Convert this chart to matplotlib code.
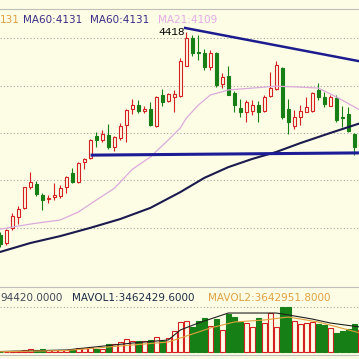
import numpy as np
import matplotlib
matplotlib.use('Agg')
import matplotlib.pyplot as plt

# daily candles (index 0 = first visible bar)
opens = [3777, 3752, 3800, 3834, 3863, 3929, 3939, 3904, 3891, 3898,
         3901, 3929, 3973, 3945, 4008, 4021, 4090, 4078, 4093, 4056,
         4084, 4125, 4176, 4188, 4169, 4176, 4122, 4220, 4201, 4214,
         4217, 4311, 4400, 4356, 4353, 4308, 4353, 4255, 4280, 4226,
         4179, 4166, 4169, 4188, 4169, 4217, 4239, 4305, 4176, 4122,
         4150, 4166, 4169, 4236, 4214, 4185, 4210, 4150, 4160, 4097, 4056]
highs = [3787, 3796, 3847, 3869, 3929, 3976, 3948, 3910, 3904, 3942,
         3935, 3964, 3989, 4008, 4021, 4081, 4103, 4109, 4128, 4090,
         4131, 4176, 4207, 4204, 4185, 4198, 4217, 4239, 4226, 4236,
         4337, 4418, 4409, 4410, 4365, 4362, 4356, 4289, 4311, 4232,
         4207, 4204, 4204, 4201, 4220, 4292, 4327, 4310, 4207, 4172,
         4188, 4214, 4229, 4258, 4229, 4220, 4220, 4185, 4182, 4100, 4085]
lows = [3740, 3746, 3793, 3812, 3860, 3923, 3901, 3856, 3879, 3888,
        3894, 3910, 3942, 3942, 3986, 4018, 4056, 4071, 4049, 4043,
        4078, 4071, 4160, 4163, 4163, 4122, 4119, 4185, 4198, 4166,
        4214, 4311, 4343, 4330, 4299, 4299, 4245, 4242, 4220, 4166,
        4150, 4135, 4157, 4135, 4166, 4214, 4236, 4144, 4097, 4112,
        4125, 4166, 4166, 4204, 4182, 4185, 4135, 4119, 4103, 4030, 4050]
closes = [3749, 3793, 3837, 3860, 3929, 3945, 3907, 3888, 3894, 3904,
          3926, 3961, 3945, 4005, 4018, 4078, 4078, 4097, 4056, 4087,
          4122, 4172, 4188, 4169, 4176, 4125, 4214, 4198, 4223, 4223,
          4327, 4400, 4353, 4353, 4308, 4353, 4251, 4277, 4220, 4188,
          4166, 4198, 4188, 4166, 4214, 4242, 4315, 4150, 4135, 4150,
          4169, 4182, 4226, 4214, 4191, 4214, 4141, 4147, 4106, 4056, 4078]

# volume, in units of 10k
vols = [4, 7, 11, 18, 23, 37, 23, 41, 23, 23,
        23, 23, 41, 55, 55, 65, 46, 46, 115, 115,
        134, 179, 148, 148, 148, 161, 207, 148, 193, 286,
        414, 428, 345, 428, 469, 359, 455, 304, 524, 483,
        414, 400, 345, 469, 400, 538, 345, 621, 621, 428,
        386, 400, 414, 386, 373, 331, 262, 290, 317, 386, 304]

# moving averages read at a few bars
ma60_idx = [0, 5, 10, 15, 20, 25, 30, 34, 38, 42, 46, 50, 55, 60]
ma60_val = [3724, 3752, 3774, 3800, 3828, 3863, 3913, 3958, 3992, 4018, 4040, 4068, 4100, 4131]
ma21_idx = [0, 5, 10, 13, 16, 19, 20, 22, 25, 28, 30, 31, 33, 35, 38, 42, 46, 50, 53, 56, 60]
ma21_val = [3796, 3812, 3825, 3850, 3888, 3925, 3945, 3985, 4024, 4078, 4116, 4147, 4188, 4220,
            4236, 4242, 4248, 4245, 4242, 4214, 4172]
mavol1_idx = [0, 11, 22, 28, 30, 33, 38, 46, 48, 52, 55, 60]
mavol1_val = [7, 28, 124, 166, 304, 400, 538, 538, 511, 455, 400, 345]
mavol2_idx = [0, 11, 22, 28, 30, 35, 39, 44, 48, 53, 60]
mavol2_val = [4, 21, 97, 138, 193, 331, 414, 442, 483, 414, 262]

# hand drawn lines
trend_x = [30.8, 59.8]
trend_y = [4432, 4327]
support_x = [15.3, 59.8]
support_y = [4030, 4037]

price_grid = [4400, 4250, 4100, 3950, 3800]
vol_grid = [621]

BG = '#fdfde6'
RED = '#d42020'
GREEN = '#168016'
GRID = '#a8a8a0'
SIZE = 359.0

def figPos(x, y):
    return x / SIZE, 1 - y / SIZE

def cleanAxes(ax):
    ax.set_facecolor(BG)
    ax.set_xticks([])
    ax.set_yticks([])
    for side in ['left', 'right', 'bottom', 'top']:
        ax.spines[side].set_visible(False)

def drawCandles(ax):
    for i in range(len(opens)):
        o, h, l, c = opens[i], highs[i], lows[i], closes[i]
        up = c >= o
        col = RED if up else GREEN
        ax.vlines(i, l, h, color=col, lw=0.8, zorder=2)
        ax.bar(i, max(abs(c - o), 0.5), bottom=min(o, c), width=0.6,
               facecolor=BG if up else GREEN, edgecolor=col, lw=0.8, zorder=3)

def drawVolume(ax):
    for i in range(len(vols)):
        up = closes[i] >= opens[i]
        col = RED if up else GREEN
        ax.bar(i, vols[i], width=0.8, facecolor=BG if up else GREEN,
               edgecolor=col, lw=0.8, zorder=3)

fig = plt.figure(figsize=(3.59, 3.59), dpi=100, facecolor=BG)
axPrice = fig.add_axes([0, 1 - 287 / SIZE, 1, 278 / SIZE])
axVol = fig.add_axes([0, 1 - 355 / SIZE, 1, 68 / SIZE])
cleanAxes(axPrice)
cleanAxes(axVol)
axPrice.spines['top'].set_visible(True)
axPrice.spines['top'].set_color('#c0c0b8')
axVol.spines['top'].set_visible(True)
axVol.spines['top'].set_color('#c0c0b8')
axVol.spines['bottom'].set_visible(True)
axVol.spines['bottom'].set_color('#c0c0b8')

for level in price_grid:
    axPrice.axhline(level, color=GRID, lw=0.8, ls=(0, (1, 2)), zorder=1)
for level in vol_grid:
    axVol.axhline(level, color=GRID, lw=0.8, ls=(0, (1, 2)), zorder=1)

drawCandles(axPrice)
axPrice.plot(ma21_idx, ma21_val, color='#dcaadc', lw=0.9, zorder=4)
axPrice.plot(ma60_idx, ma60_val, color='#1a1a4e', lw=1.5, zorder=4)
axPrice.plot(trend_x, trend_y, color='#1c1c8e', lw=1.8, zorder=5)
axPrice.plot(support_x, support_y, color='#1c1c96', lw=2.2, zorder=5)
axPrice.text(30.8, 4418, '4418', ha='right', va='center', fontsize=8,
             family='Liberation Mono', color='black', zorder=6)
axPrice.set_xlim(-0.05, 59.78)
axPrice.set_ylim(3613, 4492)

drawVolume(axVol)
axVol.plot(mavol1_idx, mavol1_val, color='#202020', lw=0.8, zorder=4)
axVol.plot(mavol2_idx, mavol2_val, color='#e0a040', lw=0.8, zorder=4)
axVol.set_xlim(-0.05, 59.78)
axVol.set_ylim(-41, 897)

# header texts
headers = [(0, 20, '131', '#e0a040'),
           (23, 20, 'MA60:4131', '#3a2c86'),
           (90, 20, 'MA60:4131', '#3a2c86'),
           (158, 20, 'MA21:4109', '#e4aae4'),
           (0, 298, '94420.0000', '#404858'),
           (72, 298, 'MAVOL1:3462429.6000', '#1c2c48'),
           (208, 298, 'MAVOL2:3642951.8000', '#e0a040')]
for x, y, s, col in headers:
    fx, fy = figPos(x, y)
    fig.text(fx, fy, s, ha='left', va='center', fontsize=7.5, color=col)

fig.savefig('out.png', dpi=100, facecolor=BG)
